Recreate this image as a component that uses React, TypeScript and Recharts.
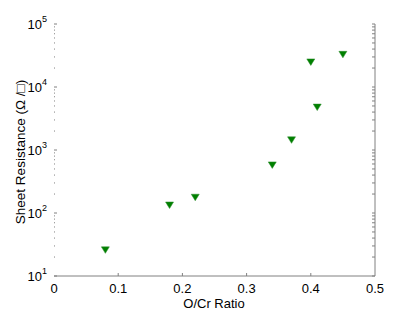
import React from "react";
import { ScatterChart, Scatter, XAxis, YAxis } from "recharts";

const ratios = [0.08, 0.18, 0.22, 0.34, 0.37, 0.4, 0.41, 0.45];
const resistance = [26, 134, 178, 580, 1450, 25000, 4800, 33000];
const xTicks = [0, 0.1, 0.2, 0.3, 0.4, 0.5];
const topTicks = [0.1, 0.2, 0.4];
const decades = [10, 100, 1000, 10000];
const yMajor = [10, 100, 1000, 10000, 100000];

const data = ratios.map((r, i) => ({ x: r, y: resistance[i] }));
const yTicks: number[] = [];
decades.forEach((d) => {
  for (let m = 1; m <= 9; m++) yTicks.push(d * m);
});
yTicks.push(100000);

const AXIS = "#808080";
const FONT = "Liberation Sans, Arial, sans-serif";

const LeftTick = (props: any) => {
  const { x, y, payload } = props;
  const v = payload.value;
  const isMajor = yMajor.includes(v);
  const exp = Math.round(Math.log10(v));
  return (
    <g>
      <line x1={x} x2={x + (isMajor ? 3 : 1.5)} y1={y} y2={y} stroke={AXIS} strokeWidth={1} strokeDasharray={isMajor ? undefined : "1 1"} />
      {isMajor && (
        <text x={x - 7} y={y + 5} textAnchor="end" fontFamily={FONT} fontSize={13} fill="#000">
          10
          <tspan dx={0} dy={-7} fontSize={9}>{exp}</tspan>
        </text>
      )}
    </g>
  );
};

const RightTick = (props: any) => {
  const { x, y } = props;
  return <line x1={x} x2={x - 3} y1={y} y2={y} stroke={AXIS} strokeWidth={1} />;
};

const BottomTick = (props: any) => {
  const { x, y, payload } = props;
  const v = payload.value;
  return (
    <g>
      {v > 0 && v < 0.5 && <line x1={x} x2={x} y1={y} y2={y - 3} stroke={AXIS} strokeWidth={1} />}
      <text x={x} y={y + 17} textAnchor="middle" fontFamily={FONT} fontSize={13} fill="#000">
        {String(v)}
      </text>
    </g>
  );
};

const TopTick = (props: any) => {
  const { x, y } = props;
  return <line x1={x} x2={x} y1={y} y2={y + 3} stroke={AXIS} strokeWidth={1} />;
};

const DownTriangle = (props: any) => {
  const { cx, cy } = props;
  if (cx == null || cy == null) return null;
  return (
    <polygon
      points={`${cx - 4},${cy - 3} ${cx + 4},${cy - 3} ${cx},${cy + 3.5}`}
      fill="#008000"
      stroke="#2a8a2a"
      strokeWidth={0.5}
    />
  );
};

export default function App() {
  return (
    <div style={{ position: "absolute", left: 0, top: 0, width: 415, height: 312, background: "#fff" }}>
      <ScatterChart width={415} height={312} margin={{ top: 24, right: 0, bottom: 0, left: 0 }}>
        <XAxis
          xAxisId="b"
          dataKey="x"
          type="number"
          domain={[0, 0.5]}
          ticks={xTicks}
          height={36}
          axisLine={{ stroke: AXIS }}
          tickLine={false}
          tickSize={0}
          tickMargin={0}
          tick={<BottomTick />}
          interval={0}
          allowDataOverflow
        />
        <XAxis
          xAxisId="t"
          orientation="top"
          dataKey="x"
          type="number"
          domain={[0, 0.5]}
          ticks={topTicks}
          height={0}
          axisLine={false}
          tickLine={false}
          tickSize={0}
          tickMargin={0}
          tick={<TopTick />}
          interval={0}
          allowDataOverflow
        />
        <YAxis
          yAxisId="l"
          dataKey="y"
          type="number"
          scale="log"
          domain={[10, 100000]}
          ticks={yTicks}
          width={54}
          axisLine={false}
          tickLine={false}
          tickSize={0}
          tickMargin={0}
          tick={<LeftTick />}
          interval={0}
          allowDataOverflow
        />
        <YAxis
          yAxisId="r"
          orientation="right"
          dataKey="y"
          type="number"
          scale="log"
          domain={[10, 100000]}
          ticks={yTicks}
          width={40}
          axisLine={{ stroke: AXIS }}
          tickLine={false}
          tickSize={0}
          tickMargin={0}
          tick={<RightTick />}
          interval={0}
          allowDataOverflow
        />
        <Scatter
          data={data}
          xAxisId="b"
          yAxisId="l"
          shape={<DownTriangle />}
          isAnimationActive={false}
        />
      </ScatterChart>
      <div
        style={{
          position: "absolute",
          left: 20,
          top: 152,
          transform: "translate(-50%, -50%) rotate(-90deg)",
          whiteSpace: "nowrap",
          fontFamily: FONT,
          fontSize: 13.5,
        }}
      >
        Sheet Resistance (Ω /□)
      </div>
      <div
        style={{
          position: "absolute",
          left: 214,
          top: 303,
          transform: "translate(-50%, -50%)",
          whiteSpace: "nowrap",
          fontFamily: FONT,
          fontSize: 13,
        }}
      >
        O/Cr Ratio
      </div>
    </div>
  );
}
